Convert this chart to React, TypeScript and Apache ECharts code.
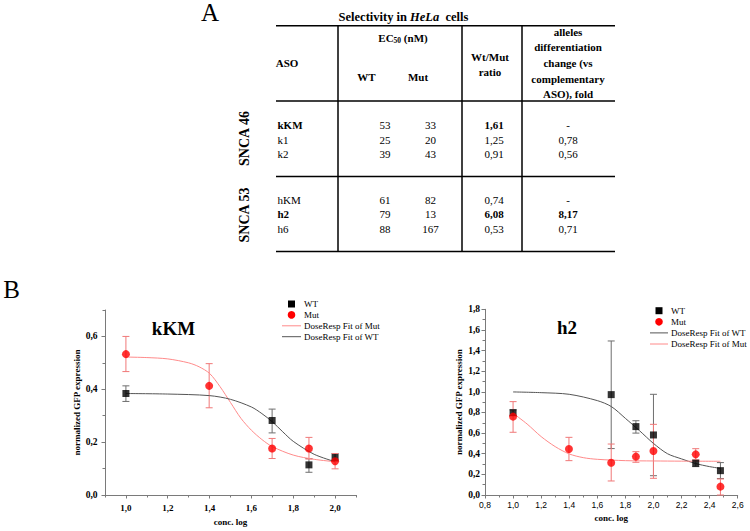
import React, { useEffect, useRef } from "react";
import * as echarts from "echarts";

// ---------- Table data (panel A) ----------
const asoNames = ["kKM", "k1", "k2", "hKM", "h2", "h6"];
const ec50WT = ["53", "25", "39", "61", "79", "88"];
const ec50Mut = ["33", "20", "43", "82", "13", "167"];
const wtMutRatio = ["1,61", "1,25", "0,91", "0,74", "6,08", "0,53"];
const foldChange = ["-", "0,78", "0,56", "-", "8,17", "0,71"];
const boldAso = ["kKM", "h2"];
const boldRatio = ["1,61", "6,08"];
const boldFold = ["8,17"];
const groupLabels = ["SNCA 46", "SNCA 53"];
const foldHeader = ["alleles", "differentiation", "change (vs", "complementary", "ASO), fold"];

// ---------- Panel B, left: kKM ----------
const kkmWT = [[1.0, 0.384], [1.699, 0.282], [1.875, 0.114], [2.0, 0.142]];
const kkmWTErr = [[1.0, 0.354, 0.413], [1.699, 0.235, 0.325], [1.875, 0.086, 0.138], [2.0, 0.128, 0.157]];
const kkmMut = [[1.0, 0.533], [1.398, 0.413], [1.699, 0.176], [1.875, 0.176], [2.0, 0.128]];
const kkmMutErr = [[1.0, 0.467, 0.6], [1.398, 0.33, 0.497], [1.699, 0.138, 0.214], [1.875, 0.136, 0.218], [2.0, 0.099, 0.157]];
const kkmFitMut = [[1.0, 0.522], [1.1, 0.52], [1.2, 0.515], [1.3, 0.5], [1.35, 0.485], [1.4, 0.46], [1.45, 0.41], [1.5, 0.35], [1.55, 0.29], [1.6, 0.245], [1.65, 0.21], [1.7, 0.183], [1.8, 0.151], [1.9, 0.135], [2.0, 0.126]];
const kkmFitWT = [[1.0, 0.384], [1.2, 0.382], [1.4, 0.376], [1.5, 0.362], [1.6, 0.333], [1.65, 0.308], [1.7, 0.277], [1.75, 0.239], [1.8, 0.203], [1.9, 0.154], [2.0, 0.126]];
const kkmXTicks = [1.0, 1.2, 1.4, 1.6, 1.8, 2.0];
const kkmXMinor = [0.9, 1.1, 1.3, 1.5, 1.7, 1.9, 2.1];
const kkmYTicks = [0, 0.2, 0.4, 0.6];
const kkmYMinor = [0.1, 0.3, 0.5, 0.7];
const kkmLegend = ["WT", "Mut", "DoseResp Fit of Mut", "DoseResp Fit of WT"];

// ---------- Panel B, right: h2 ----------
const h2WT = [[1.0, 0.798], [1.699, 0.973], [1.875, 0.663], [2.0, 0.582], [2.301, 0.307], [2.477, 0.236]];
const h2WTErr = [[1.0, 0.77, 0.825], [1.699, 0.45, 1.493], [1.875, 0.6, 0.72], [2.0, 0.187, 0.976], [2.301, 0.275, 0.34], [2.477, 0.16, 0.314]];
const h2Mut = [[1.0, 0.76], [1.398, 0.446], [1.699, 0.313], [1.875, 0.372], [2.0, 0.427], [2.301, 0.394], [2.477, 0.081]];
const h2MutErr = [[1.0, 0.608, 0.905], [1.398, 0.333, 0.559], [1.699, 0.136, 0.494], [1.875, 0.317, 0.42], [2.0, 0.162, 0.685], [2.301, 0.34, 0.449], [2.477, 0.0, 0.155]];
const h2FitWT = [[1.0, 0.999], [1.2, 0.992], [1.4, 0.976], [1.6, 0.915], [1.7, 0.857], [1.8, 0.743], [1.9, 0.624], [2.0, 0.5], [2.1, 0.4], [2.2, 0.35], [2.3, 0.305], [2.4, 0.275], [2.477, 0.258]];
const h2FitMut = [[1.0, 0.792], [1.1, 0.688], [1.2, 0.566], [1.3, 0.469], [1.4, 0.398], [1.5, 0.362], [1.6, 0.346], [1.8, 0.333], [2.0, 0.33], [2.2, 0.328], [2.477, 0.327]];
const h2XTicks = [0.8, 1.0, 1.2, 1.4, 1.6, 1.8, 2.0, 2.2, 2.4, 2.6];
const h2XMinor = [0.9, 1.1, 1.3, 1.5, 1.7, 1.9, 2.1, 2.3, 2.5];
const h2YTicks = [0, 0.2, 0.4, 0.6, 0.8, 1.0, 1.2, 1.4, 1.6, 1.8];
const h2YMinor = [0.1, 0.3, 0.5, 0.7, 0.9, 1.1, 1.3, 1.5, 1.7];
const h2Legend = ["WT", "Mut", "DoseResp Fit of WT", "DoseResp Fit of Mut"];

const SERIF = "'Liberation Serif', 'Times New Roman', serif";
const SANS = "'Liberation Sans', Arial, sans-serif";
const AXIS_COLOR = "#7a7a7a";
const WT_COLOR = "#000000";
const MUT_COLOR = "#ff0000";
const WT_ERR = "#6e6e6e";
const MUT_ERR = "#f07878";
const WT_FIT = "#555555";
const MUT_FIT = "#ff8a8a";

const comma = (v: number) => v.toFixed(1).replace(".", ",");

function errorBarSeries(name: string, data: number[][], color: string, axis: number) {
  return {
    type: "custom",
    name,
    xAxisIndex: axis,
    yAxisIndex: axis,
    z: 2,
    encode: { x: 0, y: [1, 2] },
    data,
    renderItem: (params: any, api: any) => {
      const x = api.value(0);
      const lo = api.coord([x, api.value(1)]);
      const hi = api.coord([x, api.value(2)]);
      const cap = 3.5;
      const st = { stroke: color, lineWidth: 1 };
      return {
        type: "group",
        children: [
          { type: "line", shape: { x1: lo[0], y1: lo[1], x2: hi[0], y2: hi[1] }, style: st },
          { type: "line", shape: { x1: lo[0] - cap, y1: lo[1], x2: lo[0] + cap, y2: lo[1] }, style: st },
          { type: "line", shape: { x1: hi[0] - cap, y1: hi[1], x2: hi[0] + cap, y2: hi[1] }, style: st },
        ],
      };
    },
  };
}

function mainXAxis(grid: number, min: number, max: number, ticks: number[], labelStyle: any, nameGap: number, margin: number) {
  return {
    type: "value",
    gridIndex: grid,
    position: "bottom",
    min,
    max,
    name: "conc. log",
    nameLocation: "middle",
    nameGap,
    nameTextStyle: { fontFamily: SERIF, fontWeight: "bold", fontSize: 9, color: "#000" },
    axisLine: { show: true, onZero: false, lineStyle: { color: AXIS_COLOR, width: 1 } },
    axisTick: { show: true, customValues: ticks, length: 3.5, lineStyle: { color: AXIS_COLOR } },
    axisLabel: { show: true, customValues: ticks, formatter: comma, margin, color: "#000", ...labelStyle },
    splitLine: { show: false },
  };
}

function minorAxis(kind: "x" | "y", grid: number, min: number, max: number, ticks: number[]) {
  return {
    type: "value",
    gridIndex: grid,
    position: kind === "x" ? "bottom" : "left",
    min,
    max,
    axisLine: { show: false, onZero: false },
    axisTick: { show: true, customValues: ticks, length: 2.5, lineStyle: { color: AXIS_COLOR } },
    axisLabel: { show: false },
    splitLine: { show: false },
  };
}

function mainYAxis(grid: number, min: number, max: number, ticks: number[], margin: number) {
  return {
    type: "value",
    gridIndex: grid,
    position: "left",
    min,
    max,
    name: "normalized GFP expression",
    nameLocation: "middle",
    nameGap: 21.5,
    nameRotate: 90,
    nameTextStyle: { fontFamily: SERIF, fontWeight: "bold", fontSize: 9, color: "#000" },
    axisLine: { show: true, onZero: false, lineStyle: { color: AXIS_COLOR, width: 1 } },
    axisTick: { show: true, customValues: ticks, length: 3.5, lineStyle: { color: AXIS_COLOR } },
    axisLabel: { show: true, customValues: ticks, formatter: comma, margin, color: "#000", fontFamily: SERIF, fontWeight: "bold", fontSize: 9.5 },
    splitLine: { show: false },
  };
}

const legendStyle: Record<string, { kind: string; color: string }> = {
  WT: { kind: "square", color: WT_COLOR },
  Mut: { kind: "dot", color: MUT_COLOR },
  "DoseResp Fit of WT": { kind: "line", color: WT_FIT },
  "DoseResp Fit of Mut": { kind: "line", color: MUT_FIT },
};

function buildLegend(names: string[], x0: number, iconW: number, y0: number, gap: number) {
  const els: any[] = [];
  names.forEach((n, i) => {
    const y = y0 + i * gap;
    const s = legendStyle[n];
    const cx = x0 + iconW / 2;
    if (s.kind === "square") {
      els.push({ type: "rect", shape: { x: cx - 3.5, y: y - 3.5, width: 7, height: 7 }, style: { fill: s.color } });
    } else if (s.kind === "dot") {
      els.push({ type: "circle", shape: { cx, cy: y, r: 3.8 }, style: { fill: s.color } });
    } else {
      els.push({ type: "line", shape: { x1: x0, y1: y, x2: x0 + iconW, y2: y }, style: { stroke: s.color, lineWidth: 1 } });
    }
    els.push({
      type: "text",
      x: x0 + iconW + 3,
      y,
      style: { text: n, fill: "#000", fontFamily: SERIF, fontSize: 9, align: "left", verticalAlign: "middle" },
    });
  });
  return els;
}

function buildTableGraphics() {
  const els: any[] = [];
  const base = { fill: "#000", fontFamily: SERIF, fontSize: 11 };
  const txt = (x: number, y: number, text: string, extra: any = {}, align = "center") => ({
    type: "text",
    x,
    y,
    style: { ...base, text, align, verticalAlign: "middle", ...extra },
  });
  // Panel letters
  els.push(txt(210, 12, "A", { fontSize: 25 }));
  els.push(txt(11.5, 289, "B", { fontSize: 25 }));
  // Title
  els.push({
    type: "text",
    x: 403.5,
    y: 17,
    style: {
      text: "{b|Selectivity in }{i|HeLa}{b|  cells}",
      align: "center",
      verticalAlign: "middle",
      fill: "#000",
      rich: {
        b: { fontFamily: SERIF, fontWeight: "bold", fontSize: 12.5, fill: "#000" },
        i: { fontFamily: SERIF, fontWeight: "bold", fontStyle: "italic", fontSize: 12.5, fill: "#000" },
      },
    },
  });
  // Lines
  const L = 276, R = 615;
  const hLines = [25.7, 101, 176.5, 251.5];
  hLines.forEach((y) => els.push({ type: "line", shape: { x1: L, y1: y, x2: R, y2: y }, style: { stroke: "#000", lineWidth: 1.5 } }));
  [338, 462, 522].forEach((x) => els.push({ type: "line", shape: { x1: x, y1: 25.7, x2: x, y2: 251.5 }, style: { stroke: "#000", lineWidth: 1.5 } }));
  // Headers
  const hb = { fontWeight: "bold" };
  els.push(txt(287, 63, "ASO", hb));
  els.push({
    type: "text",
    x: 403,
    y: 37.7,
    style: {
      text: "{a|EC}{s|50}{a| (nM)}",
      align: "center",
      verticalAlign: "middle",
      fill: "#000",
      rich: {
        a: { fontFamily: SERIF, fontWeight: "bold", fontSize: 11, fill: "#000", lineHeight: 14 },
        s: { fontFamily: SERIF, fontWeight: "bold", fontSize: 7.5, fill: "#000", lineHeight: 14, padding: [5, 0, 0, 0] },
      },
    },
  });
  els.push(txt(366.5, 77, "WT", hb));
  els.push(txt(418, 77, "Mut", hb));
  els.push(txt(490, 57, "Wt/Mut", hb));
  els.push(txt(490, 72, "ratio", hb));
  const fy = [31.7, 47.3, 62.9, 78.5, 94];
  foldHeader.forEach((t, i) => els.push(txt(568, fy[i], t, hb)));
  // Rows
  const rowY = [125, 139.5, 154, 199.5, 214, 228.5];
  asoNames.forEach((n, i) => {
    const y = rowY[i];
    els.push(txt(277.5, y, n, boldAso.includes(n) ? hb : {}, "left"));
    els.push(txt(385, y, ec50WT[i]));
    els.push(txt(430.5, y, ec50Mut[i]));
    els.push(txt(494, y, wtMutRatio[i], boldRatio.includes(wtMutRatio[i]) ? hb : {}));
    els.push(txt(568, y, foldChange[i], boldFold.includes(foldChange[i]) ? hb : {}));
  });
  // Group labels (rotated)
  const gy = [138.5, 215];
  groupLabels.forEach((g, i) =>
    els.push({
      type: "text",
      x: 244,
      y: gy[i],
      rotation: Math.PI / 2,
      style: { ...base, text: g, fontSize: 14, fontWeight: "bold", align: "center", verticalAlign: "middle" },
    })
  );
  // Chart titles
  els.push(txt(173.5, 328, "kKM", { fontSize: 19, fontWeight: "bold" }));
  els.push(txt(567, 327, "h2", { fontSize: 19, fontWeight: "bold" }));
  // Legends
  els.push(...buildLegend(kkmLegend, 282, 19, 304, 10.9));
  els.push(...buildLegend(h2Legend, 650, 18, 310.7, 11.1));
  return els;
}

export default function App() {
  const ref = useRef<HTMLDivElement>(null);
  useEffect(() => {
    if (!ref.current) return;
    const chart = echarts.init(ref.current, undefined, { renderer: "svg" });
    const option: any = {
      animation: false,
      backgroundColor: "#ffffff",
      grid: [
        { left: 105, top: 310, width: 251, height: 185 },
        { left: 485, top: 309.3, width: 252.7, height: 185.7 },
      ],
      xAxis: [
        mainXAxis(0, 0.9, 2.1, kkmXTicks, { fontFamily: SERIF, fontWeight: "bold", fontSize: 9 }, 22.5, 8),
        minorAxis("x", 0, 0.9, 2.1, kkmXMinor),
        mainXAxis(1, 0.8, 2.6, h2XTicks, { fontFamily: SANS, fontSize: 8.5 }, 18.5, 5),
        minorAxis("x", 1, 0.8, 2.6, h2XMinor),
      ],
      yAxis: [
        mainYAxis(0, 0, 0.7, kkmYTicks, 7.5),
        minorAxis("y", 0, 0, 0.7, kkmYMinor),
        mainYAxis(1, 0, 1.8, h2YTicks, 5),
        minorAxis("y", 1, 0, 1.8, h2YMinor),
      ],
      graphic: buildTableGraphics(),
      series: [
        errorBarSeries("errWT-kKM", kkmWTErr, WT_ERR, 0),
        errorBarSeries("errMut-kKM", kkmMutErr, MUT_ERR, 0),
        { type: "line", name: "DoseResp Fit of Mut", xAxisIndex: 0, yAxisIndex: 0, data: kkmFitMut, smooth: 0.3, symbol: "none", z: 3, lineStyle: { color: MUT_FIT, width: 1 }, itemStyle: { color: MUT_FIT } },
        { type: "line", name: "DoseResp Fit of WT", xAxisIndex: 0, yAxisIndex: 0, data: kkmFitWT, smooth: 0.3, symbol: "none", z: 3, lineStyle: { color: WT_FIT, width: 1 }, itemStyle: { color: WT_FIT } },
        { type: "scatter", name: "WT", xAxisIndex: 0, yAxisIndex: 0, data: kkmWT, symbol: "rect", symbolSize: 7, z: 5, itemStyle: { color: WT_COLOR } },
        { type: "scatter", name: "Mut", xAxisIndex: 0, yAxisIndex: 0, data: kkmMut, symbol: "circle", symbolSize: 8, z: 5, itemStyle: { color: MUT_COLOR } },

        errorBarSeries("errWT-h2", h2WTErr, WT_ERR, 2),
        errorBarSeries("errMut-h2", h2MutErr, MUT_ERR, 2),
        { type: "line", name: "DoseResp Fit of WT", xAxisIndex: 2, yAxisIndex: 2, data: h2FitWT, smooth: 0.3, symbol: "none", z: 3, lineStyle: { color: WT_FIT, width: 1 }, itemStyle: { color: WT_FIT } },
        { type: "line", name: "DoseResp Fit of Mut", xAxisIndex: 2, yAxisIndex: 2, data: h2FitMut, smooth: 0.3, symbol: "none", z: 3, lineStyle: { color: MUT_FIT, width: 1 }, itemStyle: { color: MUT_FIT } },
        { type: "scatter", name: "WT", xAxisIndex: 2, yAxisIndex: 2, data: h2WT, symbol: "rect", symbolSize: 7, z: 5, itemStyle: { color: WT_COLOR } },
        { type: "scatter", name: "Mut", xAxisIndex: 2, yAxisIndex: 2, data: h2Mut, symbol: "circle", symbolSize: 8, z: 5, itemStyle: { color: MUT_COLOR } },
      ],
    };
    chart.setOption(option);
    return () => chart.dispose();
  }, []);
  return (
    <div
      ref={ref}
      style={{ position: "absolute", left: 0, top: 0, width: 750, height: 531, background: "#fff" }}
    />
  );
}
